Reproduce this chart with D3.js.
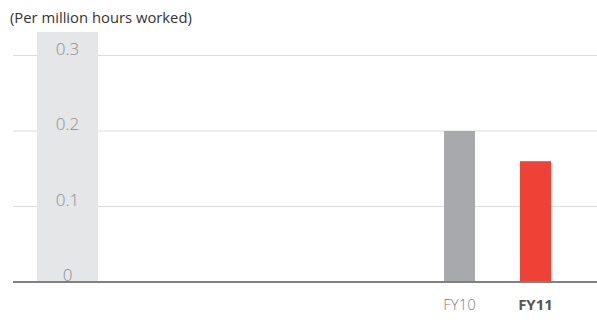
<!DOCTYPE html>
<html><head><meta charset="utf-8">
<script src="https://cdn.jsdelivr.net/npm/d3@7"></script>
<style>body{margin:0;background:#fff}svg{display:block}</style>
</head><body>
<script>
const categories = ["FY10", "FY11"];
const values = [0.2, 0.16];
const tickValues = [0, 0.1, 0.2, 0.3];
const tickLabels = ["0", "0.1", "0.2", "0.3"];
const title = "(Per million hours worked)";

const W = 597, H = 322;
const svg = d3.select("body").append("svg").attr("width", W).attr("height", H);
const font = "'Open Sans', sans-serif";

const y = d3.scaleLinear().domain([0, 0.3]).range([282, 55.5]);
const x = d3.scaleBand().domain(categories).range([421.5, 573.5]).paddingInner(0.592).paddingOuter(0.296);

// gridlines
svg.append("g").selectAll("line").data(tickValues.filter(d => d > 0)).join("line")
  .attr("x1", 13).attr("x2", W).attr("y1", d => y(d)).attr("y2", d => y(d))
  .attr("stroke", "#dcdcdc").attr("stroke-width", 1);

// band
svg.append("rect").attr("x", 37).attr("y", 32).attr("width", 61).attr("height", y(0) - 32).attr("fill", "#e5e6e8");

// tick labels
svg.append("g").selectAll("text").data(tickValues).join("text")
  .attr("x", 67.5).attr("y", d => y(d) - 1).attr("text-anchor", "middle")
  .attr("font-family", font).attr("font-weight", 300).attr("font-size", 17).attr("fill", "#8c8c8c")
  .text((d, i) => tickLabels[i]);

// bars
svg.append("g").selectAll("rect").data(values).join("rect")
  .attr("x", (d, i) => x(categories[i])).attr("width", x.bandwidth())
  .attr("y", d => y(d)).attr("height", d => y(0) - y(d))
  .attr("fill", (d, i) => i === 1 ? "#ef4136" : "#a7a9ac");

// baseline axis
svg.append("line").attr("x1", 13).attr("x2", W).attr("y1", y(0)).attr("y2", y(0))
  .attr("stroke", "#808082").attr("stroke-width", 2);

// category labels
svg.append("g").selectAll("text").data(categories).join("text")
  .attr("x", d => x(d) + x.bandwidth() / 2).attr("y", 310).attr("text-anchor", "middle")
  .attr("font-family", font).attr("font-size", 15)
  .attr("font-weight", (d, i) => i === 1 ? 700 : 300)
  .attr("fill", (d, i) => i === 1 ? "#555555" : "#808080")
  .text(d => d);

// title
svg.append("text").attr("x", 10).attr("y", 23).attr("font-family", font).attr("font-size", 14.8)
  .attr("fill", "#333333").text(title);
</script>
</body></html>
